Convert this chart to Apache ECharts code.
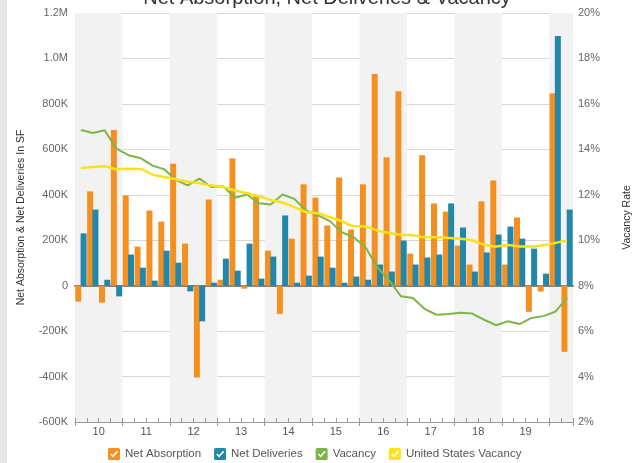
<!DOCTYPE html>
<html>
<head>
<meta charset="utf-8">
<title>Net Absorption, Net Deliveries & Vacancy</title>
<script src="https://cdn.jsdelivr.net/npm/echarts/dist/echarts.min.js"></script>
<style>
  body { margin: 0; background: #fff; }
  #strip { position: absolute; left: 0; top: 0; width: 7px; height: 463px; background: #e6e6e6; }
  #chart { position: absolute; left: 0; top: 0; width: 641px; height: 463px; }
</style>
</head>
<body>
<div id="strip"></div>
<div id="chart"></div>
<script>
// quarters 2010 Q1 .. 2020 Q2
var quarters = ['10 Q1','10 Q2','10 Q3','10 Q4','11 Q1','11 Q2','11 Q3','11 Q4',
	'12 Q1','12 Q2','12 Q3','12 Q4','13 Q1','13 Q2','13 Q3','13 Q4',
	'14 Q1','14 Q2','14 Q3','14 Q4','15 Q1','15 Q2','15 Q3','15 Q4',
	'16 Q1','16 Q2','16 Q3','16 Q4','17 Q1','17 Q2','17 Q3','17 Q4',
	'18 Q1','18 Q2','18 Q3','18 Q4','19 Q1','19 Q2','19 Q3','19 Q4',
	'20 Q1','20 Q2'];
var yearLabels = ['10','11','12','13','14','15','16','17','18','19'];

// SF, in thousands
var netAbsorption = [-70, 415, -75, 685, 397, 172, 331, 282,
	537, 185, -404, 379, 26, 560, -13, 400,
	154, -124, 207, 446, 388, 265, 476, 247,
	446, 931, 565, 856, 141, 574, 362, 326,
	176, 93, 371, 463, 93, 300, -115, -26,
	847, -291];
var netDeliveries = [230, 335, 26, -47, 137, 79, 22, 154,
	101, -25, -157, 13, 119, 66, 185, 31,
	128, 309, 13, 44, 128, 79, 13, 40,
	26, 93, 62, 199, 93, 124, 137, 362,
	256, 62, 146, 225, 260, 207, 163, 53,
	1099, 335];
// percent
var vacancy = [14.85, 14.72, 14.84, 14.03, 13.74, 13.62, 13.29, 13.13,
	12.66, 12.41, 12.71, 12.34, 12.37, 11.87, 12.01, 11.63,
	11.57, 12.01, 11.82, 11.31, 11.09, 10.84, 10.35, 10.13,
	9.69, 8.81, 8.22, 7.53, 7.46, 6.97, 6.72, 6.75,
	6.81, 6.77, 6.50, 6.26, 6.43, 6.31, 6.58, 6.66,
	6.85, 7.46];
var usVacancy = [13.18, 13.22, 13.26, 13.12, 13.15, 13.13, 12.90, 12.78,
	12.68, 12.57, 12.51, 12.41, 12.34, 12.19, 12.07, 11.93,
	11.78, 11.65, 11.46, 11.24, 11.19, 11.01, 10.84, 10.62,
	10.60, 10.43, 10.32, 10.24, 10.22, 10.13, 10.13, 10.10,
	10.06, 9.99, 9.81, 9.72, 9.79, 9.72, 9.72, 9.78,
	9.88, 9.99];

var FONT = '"Liberation Sans", Arial, sans-serif';
var checkIcon = 'path://M2,0 L14,0 Q16,0 16,2 L16,14 Q16,16 14,16 L2,16 Q0,16 0,14 L0,2 Q0,0 2,0 Z ' +
	'M3,8.8 L6.6,12.6 L13.4,5.2 L12,3.8 L6.6,9.8 L4.4,7.4 Z';

var option = {
	animation : false,
	textStyle : { fontFamily : FONT },
	title : {
		text : 'Net Absorption, Net Deliveries & Vacancy',
		left : 327,
		textAlign : 'center',
		top : -12,
		padding : 0,
		textStyle : { fontSize : 20, fontWeight : 'normal', color : '#333', fontFamily : FONT }
	},
	legend : {
		left : 103,
		top : 443,
		itemWidth : 12,
		itemHeight : 12,
		itemGap : 13,
		icon : checkIcon,
		textStyle : { fontSize : 11.5, color : '#555', fontFamily : FONT },
		data : ['Net Absorption', 'Net Deliveries', 'Vacancy', 'United States Vacancy']
	},
	grid : { left : 75, right : 62, top : 13, bottom : 41, containLabel : false },
	xAxis : [{
		// data axis, its line is the zero line
		type : 'category',
		data : quarters,
		boundaryGap : true,
		axisLine : { show : true, onZero : true, onZeroAxisIndex : 0, lineStyle : { color : '#808080', width : 2 } },
		axisTick : { show : false },
		axisLabel : { show : false },
		splitLine : { show : false }
	}, {
		// year bands + major ticks
		type : 'value', min : 0, max : 42, interval : 4,
		position : 'bottom',
		axisLine : { show : true, onZero : false, lineStyle : { color : '#999', width : 1 } },
		axisTick : { show : true, length : 4, lineStyle : { color : '#999' } },
		axisLabel : { show : false },
		splitLine : { show : false },
		splitArea : { show : true, areaStyle : { color : ['#f2f2f2', 'rgba(255,255,255,0)'] } }
	}, {
		// quarter ticks
		type : 'value', min : 0, max : 42, interval : 1,
		position : 'bottom',
		axisLine : { show : false, onZero : false },
		axisTick : { show : true, inside : true, length : 4, lineStyle : { color : '#999' } },
		axisLabel : { show : false },
		splitLine : { show : false }
	}, {
		// year labels
		type : 'value', min : 0, max : 42, interval : 2,
		position : 'bottom',
		axisLine : { show : false, onZero : false },
		axisTick : { show : false },
		splitLine : { show : false },
		axisLabel : {
			show : true, margin : 4, fontSize : 11, color : '#555', fontFamily : FONT,
			showMinLabel : true, showMaxLabel : true,
			formatter : function(v) {
				if (v % 4 === 2 && v < 40) return yearLabels[(v - 2) / 4];
				return '';
			}
		}
	}],
	yAxis : [{
		type : 'value', min : -600, max : 1200, interval : 200,
		name : 'Net Absorption & Net Deliveries In SF',
		nameLocation : 'middle', nameRotate : 90, nameGap : 48,
		nameTextStyle : { fontSize : 10.5, color : '#333', fontFamily : FONT },
		axisLine : { show : false },
		axisTick : { show : false },
		axisLabel : {
			fontSize : 11, color : '#666', margin : 7, fontFamily : FONT,
			formatter : function(v) {
				if (v === 0) return '0';
				if (Math.abs(v) >= 1000) return (v / 1000).toFixed(1) + 'M';
				return v + 'K';
			}
		},
		splitLine : { show : true, lineStyle : { color : '#d6d6d6', width : 1 } }
	}, {
		type : 'value', min : 2, max : 20, interval : 2,
		name : 'Vacancy Rate',
		nameLocation : 'middle', nameRotate : 90, nameGap : 49,
		nameTextStyle : { fontSize : 10.5, color : '#333', fontFamily : FONT },
		axisLine : { show : false },
		axisTick : { show : false },
		axisLabel : { fontSize : 11, color : '#666', margin : 5, fontFamily : FONT, formatter : '{value}%' },
		splitLine : { show : false }
	}],
	series : [{
		name : 'Net Absorption',
		type : 'bar',
		xAxisIndex : 0, yAxisIndex : 0,
		barWidth : 6,
		barGap : '-12%',
		itemStyle : { color : '#f39021' },
		data : netAbsorption
	}, {
		name : 'Net Deliveries',
		type : 'bar',
		xAxisIndex : 0, yAxisIndex : 0,
		barWidth : 6,
		itemStyle : { color : '#2287a8' },
		data : netDeliveries
	}, {
		name : 'Vacancy',
		type : 'line',
		xAxisIndex : 0, yAxisIndex : 1,
		showSymbol : false,
		symbol : 'none',
		itemStyle : { color : '#7db54a' },
		lineStyle : { color : '#7db54a', width : 2 },
		data : vacancy
	}, {
		name : 'United States Vacancy',
		type : 'line',
		xAxisIndex : 0, yAxisIndex : 1,
		showSymbol : false,
		symbol : 'none',
		smooth : 0.3,
		itemStyle : { color : '#fbe11d' },
		lineStyle : { color : '#fbe11d', width : 2.5 },
		data : usVacancy
	}]
};

var chart = echarts.init(document.getElementById('chart'));
chart.setOption(option);
</script>
</body>
</html>
